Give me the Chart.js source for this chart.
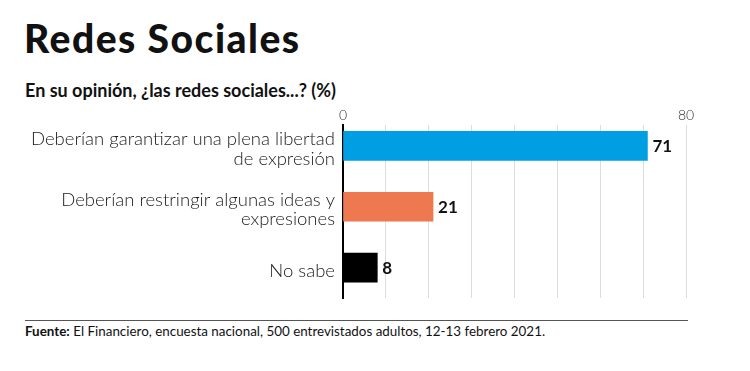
<!DOCTYPE html>
<html>
<head>
<meta charset="utf-8">
<script src="https://cdn.jsdelivr.net/npm/chart.js@4.4.1/dist/chart.umd.min.js"></script>
<style>
  html, body { margin: 0; padding: 0; background: #fff; }
  body { width: 750px; height: 371px; position: relative; overflow: hidden; font-family: Lato, "Noto Sans", sans-serif; color: #111; }
  #title { position: absolute; left: 24px; top: 19px; font-size: 39px; line-height: 39px; font-weight: 900; letter-spacing: 1.5px; color: #111; white-space: nowrap; }
  #subtitle { position: absolute; left: 25px; top: 81px; font-size: 18px; line-height: 18px; font-weight: 700; color: #111; white-space: nowrap; }
  #rule { position: absolute; left: 25px; top: 320px; width: 663px; height: 0; border-top: 1px solid #555; }
  #source { position: absolute; left: 25px; top: 325px; font-size: 13.4px; line-height: 13.4px; color: #111; white-space: nowrap; }
  #source b { font-weight: 700; }
  #wrap { position: absolute; left: 0; top: 100px; width: 750px; height: 200px; }
</style>
</head>
<body>
<div id="title">Redes Sociales</div>
<div id="subtitle">En su opinión, ¿las redes sociales...? (%)</div>
<div id="wrap"><canvas id="c"></canvas></div>
<div id="rule"></div>
<div id="source"><b>Fuente:</b> El Financiero, encuesta nacional, 500 entrevistados adultos, 12-13 febrero 2021.</div>
<script>
const categories = [
  ["Deberían garantizar una plena libertad", "de expresión"],
  ["Deberían restringir algunas ideas y", "expresiones"],
  ["No sabe"]
];
const values = [71, 21, 8];
const barColors = ["#009FE3", "#EE7850", "#000000"];
const xTickLabels = {0: "0", 80: "80"};

const valueLabels = {
  id: 'valueLabels',
  afterDatasetsDraw(chart) {
    const ctx = chart.ctx;
    const meta = chart.getDatasetMeta(0);
    ctx.save();
    ctx.font = '700 17px Lato, "Noto Sans", sans-serif';
    ctx.fillStyle = '#111';
    ctx.textAlign = 'left';
    ctx.textBaseline = 'middle';
    meta.data.forEach((bar, i) => {
      ctx.fillText(String(values[i]), bar.x + 5, bar.y + 1);
    });
    ctx.restore();
  }
};

new Chart(document.getElementById('c'), {
  type: 'bar',
  data: {
    datasets: [{
      data: values.map((v, i) => ({x: v, y: i})),
      backgroundColor: barColors,
      borderWidth: 0,
      barThickness: 29
    }]
  },
  options: {
    indexAxis: 'y',
    responsive: true,
    maintainAspectRatio: false,
    animation: false,
    layout: { padding: { left: 0, right: 64, top: 0, bottom: 2 } },
    plugins: { legend: { display: false }, tooltip: { enabled: false } },
    scales: {
      x: {
        type: 'linear',
        position: 'top',
        min: 0, max: 80,
        ticks: {
          stepSize: 10,
          autoSkip: false,
          maxRotation: 0,
          padding: 1,
          color: '#333',
          font: { family: 'Lato, "Noto Sans", sans-serif', size: 14, weight: 300 },
          callback: (v) => (xTickLabels[v] !== undefined ? xTickLabels[v] : '')
        },
        grid: { color: '#dcdcdc', lineWidth: 1, drawTicks: false },
        border: { display: false },
        afterFit: (s) => { s.height = 25; s.paddingLeft = 0; s.paddingRight = 0; }
      },
      y: {
        type: 'linear',
        reverse: true,
        offset: false,
        min: -0.344, max: 2.5,
        afterBuildTicks: (s) => {
          s.ticks = categories.map((_, i) => ({ value: i }));
          s.min = -0.344; s.max = 2.5;
        },
        ticks: {
          autoSkip: false,
          padding: 8,
          labelOffset: 3,
          color: '#1a1a1a',
          font: { family: 'Lato, "Noto Sans", sans-serif', size: 18.5, weight: 300, lineHeight: 1.05 },
          callback: (v) => categories[v] || ''
        },
        grid: { display: false, drawTicks: false, offset: false },
        border: { display: true, color: '#000', width: 2 },
        afterFit: (s) => { s.width = 343; s.paddingTop = 0; s.paddingBottom = 0; }
      }
    }
  },
  plugins: [valueLabels]
});
</script>
</body>
</html>
